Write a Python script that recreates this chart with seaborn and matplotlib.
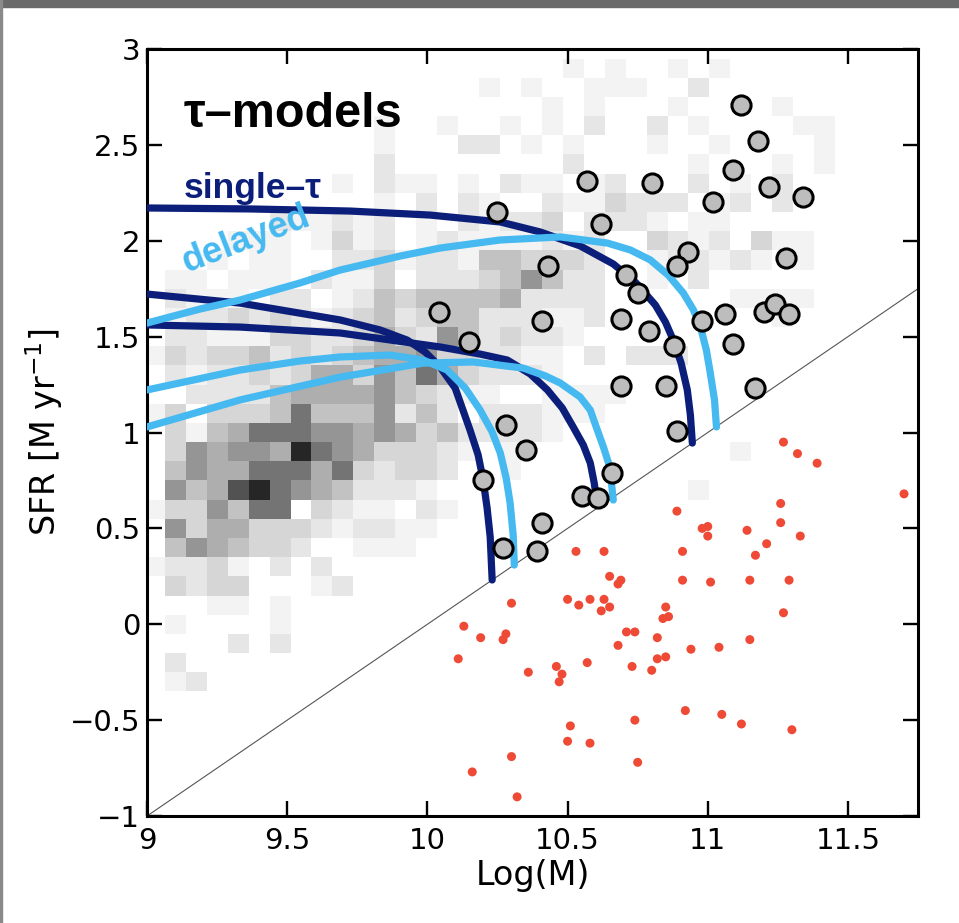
import numpy as np
import matplotlib.pyplot as plt
from matplotlib.colors import ListedColormap
from matplotlib.patches import Rectangle
import seaborn as sns

sns.set_style("ticks")
plt.rcParams['font.family'] = ['DejaVu Sans']
plt.rcParams.update({"text.color": "black", "axes.labelcolor": "black",
                     "xtick.color": "black", "ytick.color": "black",
                     "axes.edgecolor": "black"})

# ---- background density grid (grey level 0-9 per cell) ----
# rows from SFR = 2.9 (top) down to -0.3, columns from log M = 9.03 in steps of ~0.075
grid_rows = [
    "0000000000000000000010100101",
    "000000000000000010100111002",
    "0000000000000000000101000100001",
    "000000000001001001010200201000011",
    "000000000001000220101000100100001",
    "000000000002000000002000001000101",
    "0000000001021101021101200020102",
    "0000000000010202100211322201202",
    "0000002112120102122302221011",
    "00001110131201211112120032120311",
    "00010110022312214433320012212101",
    "011011102113022234642200102",
    "02111022012434444522220000001111",
    "0122323212342344222112000000001",
    "022111332235326423221",
    "13233423234556332211020222",
    "02122323553647532221",
    "00222245555643211001111",
    "1303334744462420222111",
    "03145777665653422221",
    "03656659765333210100000000001",
    "046557775732332001",
    "064589765422210000000000001",
    "133647703211021",
    "06355333212211",
    "0465433200111",
    "122310202",
    "0323300012",
    "0001101",
    "0100001",
    "0000202",
    "02",
    "012",
]
row_centers = np.round(np.arange(2.9, -0.35, -0.1), 2)
col_width = 0.0747
x_start = 8.989

# ---- star-forming galaxies (grey circles) ----
sf_mass = [11.12, 11.18, 10.57, 10.80, 11.09, 11.22, 11.02, 11.34, 10.25, 10.62,
           10.93, 10.89, 10.43, 11.28, 10.71, 10.75, 10.04, 11.06, 10.41, 10.69,
           10.98, 11.20, 11.24, 11.29, 10.79, 10.15, 11.09, 10.88, 10.69, 10.85,
           11.17, 10.28, 10.89, 10.35, 10.20, 10.66, 10.55, 10.61, 10.41, 10.27, 10.39]
sf_sfr = [2.71, 2.52, 2.31, 2.30, 2.37, 2.28, 2.20, 2.23, 2.15, 2.09,
          1.94, 1.87, 1.87, 1.91, 1.82, 1.73, 1.63, 1.62, 1.58, 1.59,
          1.58, 1.63, 1.67, 1.62, 1.53, 1.47, 1.46, 1.45, 1.24, 1.24,
          1.23, 1.04, 1.01, 0.91, 0.75, 0.79, 0.67, 0.66, 0.53, 0.40, 0.38]

# ---- quiescent galaxies (red dots) ----
q_mass = [11.27, 11.32, 11.39, 11.70, 10.89, 11.26, 11.26, 10.98, 11.00, 11.00,
          11.14, 11.21, 11.33, 11.17, 10.91, 10.53, 10.63, 10.91, 11.01, 11.15,
          11.29, 10.65, 10.69, 10.68, 10.50, 10.54, 10.58, 10.63, 10.62, 10.65,
          11.27, 10.85, 10.86, 10.84, 10.71, 10.74, 10.82, 10.68, 10.94, 11.04,
          11.15, 10.82, 10.85, 10.57, 10.46, 10.48, 10.47, 10.73, 10.80, 10.92,
          11.05, 11.12, 11.30, 10.51, 10.74, 10.50, 10.58, 10.75, 10.30, 10.13,
          10.19, 10.28, 10.27, 10.11, 10.36, 10.30, 10.16, 10.32]
q_sfr = [0.95, 0.89, 0.84, 0.68, 0.59, 0.63, 0.53, 0.50, 0.51, 0.46,
         0.49, 0.42, 0.46, 0.36, 0.38, 0.38, 0.38, 0.23, 0.22, 0.23,
         0.23, 0.25, 0.23, 0.21, 0.13, 0.10, 0.13, 0.13, 0.07, 0.09,
         0.06, 0.09, 0.04, 0.03, -0.04, -0.04, -0.07, -0.11, -0.13, -0.12,
         -0.08, -0.18, -0.17, -0.20, -0.22, -0.26, -0.30, -0.22, -0.24, -0.45,
         -0.47, -0.52, -0.55, -0.53, -0.50, -0.61, -0.62, -0.72, 0.11, -0.01,
         -0.07, -0.05, -0.08, -0.18, -0.25, -0.69, -0.77, -0.90]

# ---- model tracks ----
single_tau = [
    ([9.000, 9.367, 9.724, 10.010, 10.260, 10.402, 10.545, 10.663, 10.741, 10.813,
      10.849, 10.877, 10.905, 10.927, 10.938, 10.945],
     [2.171, 2.166, 2.155, 2.134, 2.098, 2.046, 1.973, 1.879, 1.785, 1.665,
      1.576, 1.482, 1.362, 1.222, 1.091, 0.945]),
    ([9.000, 9.332, 9.689, 9.831, 9.928, 9.992, 10.045, 10.099, 10.152, 10.181,
      10.199, 10.213, 10.224, 10.231],
     [1.722, 1.675, 1.587, 1.535, 1.482, 1.420, 1.342, 1.232, 1.013, 0.883,
      0.752, 0.606, 0.455, 0.231]),
    ([9.000, 9.332, 9.689, 10.046, 10.188, 10.285, 10.367, 10.428, 10.481, 10.520,
      10.556, 10.581, 10.595, 10.606],
     [1.561, 1.550, 1.519, 1.446, 1.409, 1.378, 1.305, 1.222, 1.128, 1.029,
      0.935, 0.841, 0.737, 0.622]),
]
delayed = [
    ([9.000, 9.189, 9.332, 9.546, 9.688, 9.902, 10.045, 10.259, 10.474, 10.642,
      10.724, 10.795, 10.859, 10.913, 10.949, 10.974, 10.995, 11.009, 11.024, 11.031],
     [1.571, 1.644, 1.691, 1.780, 1.847, 1.920, 1.962, 2.004, 2.020, 1.988,
      1.952, 1.900, 1.821, 1.727, 1.639, 1.550, 1.430, 1.310, 1.170, 1.029]),
    ([9.000, 9.332, 9.546, 9.689, 9.867, 9.985, 10.070, 10.135, 10.188, 10.231,
      10.260, 10.281, 10.295, 10.306, 10.310],
     [1.222, 1.326, 1.373, 1.394, 1.404, 1.378, 1.326, 1.232, 1.117, 1.003,
      0.893, 0.763, 0.632, 0.465, 0.309]),
    ([9.000, 9.332, 9.689, 9.985, 10.163, 10.342, 10.421, 10.474, 10.545, 10.581,
      10.606, 10.628, 10.646, 10.656, 10.663],
     [1.029, 1.170, 1.289, 1.362, 1.368, 1.336, 1.295, 1.258, 1.185, 1.117,
      1.013, 0.924, 0.841, 0.742, 0.648]),
]

x_ticks = [9, 9.5, 10, 10.5, 11, 11.5]
y_ticks = [-1, -0.5, 0, 0.5, 1, 1.5, 2, 2.5, 3]

navy = "#0b1f7a"
sky = "#45b9f0"

# build cell table for the weighted 2d histogram
cell_x, cell_y, cell_w = [], [], []
for yc, row in zip(row_centers, grid_rows):
    for i, ch in enumerate(row):
        if ch != "0":
            cell_x.append(x_start + (i + 0.5) * col_width)
            cell_y.append(yc)
            cell_w.append(int(ch))
x_edges = x_start + col_width * np.arange(36)
y_edges = np.round(np.arange(-0.45, 3.0, 0.1), 2)

greys = ["#ffffff", "#f3f3f3", "#e6e6e6", "#d6d6d6", "#c2c2c2",
         "#aeaeae", "#959595", "#747474", "#525252", "#262626"]
grey_cmap = ListedColormap(greys)

fig = plt.figure(figsize=(9.59, 9.23), dpi=100)
ax = fig.add_axes([0.1533, 0.1159, 0.8040, 0.8310])

sns.histplot(x=cell_x, y=cell_y, weights=cell_w, bins=[x_edges, y_edges],
             cmap=grey_cmap, vmin=-0.5, vmax=9.5, ax=ax, zorder=0)

ax.axline((10, 0), slope=1, color="#555555", linewidth=0.8, zorder=1)

sns.scatterplot(x=q_mass, y=q_sfr, s=42, color="#ee4a36", edgecolor="none",
                ax=ax, zorder=2)

for xs, ys in single_tau:
    sns.lineplot(x=xs, y=ys, sort=False, estimator=None, color=navy,
                 linewidth=5.2, ax=ax, zorder=3)
for xs, ys in delayed:
    sns.lineplot(x=xs, y=ys, sort=False, estimator=None, color=sky,
                 linewidth=5.2, ax=ax, zorder=3)

sns.scatterplot(x=sf_mass, y=sf_sfr, s=190, color="#bdbdbd", edgecolor="black",
                linewidth=2.2, ax=ax, zorder=5)

ax.set_xlim(9, 11.75)
ax.set_ylim(-1, 3)
ax.set_xticks(x_ticks)
ax.set_xticklabels(["9", "9.5", "10", "10.5", "11", "11.5"])
ax.set_yticks(y_ticks)
ax.set_yticklabels(["\u22121", "\u22120.5", "0", "0.5", "1", "1.5", "2", "2.5", "3"])
ax.tick_params(direction="in", length=11, width=1.7, top=True, right=True,
               labelsize=21)
ax.tick_params(axis="x", pad=8)
ax.tick_params(axis="y", pad=5)
for side in ax.spines.values():
    side.set_linewidth(2.2)

ax.set_xlabel("Log(M)", fontsize=24, labelpad=3)
ax.set_ylabel("SFR [M yr$^{-1}$]", fontsize=24, labelpad=3)

bold_font = ["Liberation Sans", "DejaVu Sans"]
ax.text(0.047, 0.914, "\u03c4\u2013models", transform=ax.transAxes, family=bold_font,
        fontsize=35, fontweight="bold", ha="left", va="center")
ax.text(0.047, 0.818, "single\u2013\u03c4", transform=ax.transAxes, color=navy,
        family=bold_font, fontsize=25.5, fontweight="bold", ha="left", va="center")
ax.text(0.128, 0.751, "delayed", transform=ax.transAxes, color=sky, family=bold_font,
        fontsize=26, fontweight="bold", ha="center", va="center", rotation=21,
        rotation_mode="anchor")

# screenshot frame
fig.patches.append(Rectangle((0, 1 - 7 / 923), 1, 7 / 923, transform=fig.transFigure,
                             color="#6a6a6a", zorder=0))
fig.patches.append(Rectangle((0, 0), 2 / 959, 1, transform=fig.transFigure,
                             color="#8a8a8a", zorder=0))

fig.savefig("out.png", dpi=100)
